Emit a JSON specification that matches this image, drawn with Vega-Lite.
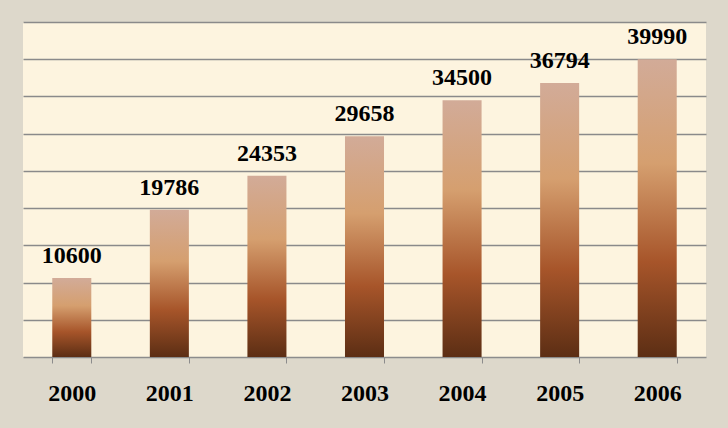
{
  "$schema": "https://vega.github.io/schema/vega-lite/v6.json",
  "width": 683,
  "height": 335,
  "autosize": {"type": "none"},
  "padding": {"left": 23, "top": 22, "right": 22, "bottom": 71},
  "background": "#ddd8cb",
  "config": {
    "view": {"fill": "#fdf4df", "stroke": null},
    "font": "Liberation Serif"
  },
  "data": {
    "values": [
      {"year": "2000", "value": 10600},
      {"year": "2001", "value": 19786},
      {"year": "2002", "value": 24353},
      {"year": "2003", "value": 29658},
      {"year": "2004", "value": 34500},
      {"year": "2005", "value": 36794},
      {"year": "2006", "value": 39990}
    ]
  },
  "encoding": {
    "x": {
      "field": "year",
      "type": "ordinal",
      "scale": {"paddingInner": 0.6, "paddingOuter": 0.3},
      "axis": {
        "title": null,
        "labelAngle": 0,
        "labelFont": "Liberation Serif",
        "labelFontSize": 24,
        "labelFontWeight": "bold",
        "labelColor": "#000000",
        "labelPadding": 18,
        "domainColor": "#8c8c8c",
        "domainWidth": 1.5,
        "tickColor": "#8c8c8c",
        "tickSize": 6,
        "tickBand": "extent"
      }
    },
    "y": {
      "field": "value",
      "type": "quantitative",
      "scale": {"domain": [0, 45000]},
      "axis": {
        "title": null,
        "labels": false,
        "ticks": false,
        "domain": false,
        "grid": true,
        "gridColor": "#8a8a8a",
        "gridWidth": 1.3,
        "values": [5000, 10000, 15000, 20000, 25000, 30000, 35000, 40000, 45000]
      }
    }
  },
  "layer": [
    {
      "mark": {
        "type": "bar",
        "color": {
          "gradient": "linear",
          "x1": 0, "y1": 0, "x2": 0, "y2": 1,
          "stops": [
            {"offset": 0, "color": "#d2ab98"},
            {"offset": 0.35, "color": "#d59f6f"},
            {"offset": 0.68, "color": "#a7552a"},
            {"offset": 1, "color": "#5c2e14"}
          ]
        }
      }
    },
    {
      "mark": {
        "type": "text",
        "font": "Liberation Serif",
        "fontSize": 24,
        "fontWeight": "bold",
        "color": "#000000",
        "baseline": "alphabetic",
        "dy": -15
      },
      "encoding": {"text": {"field": "value", "type": "quantitative", "format": "d"}}
    }
  ]
}
